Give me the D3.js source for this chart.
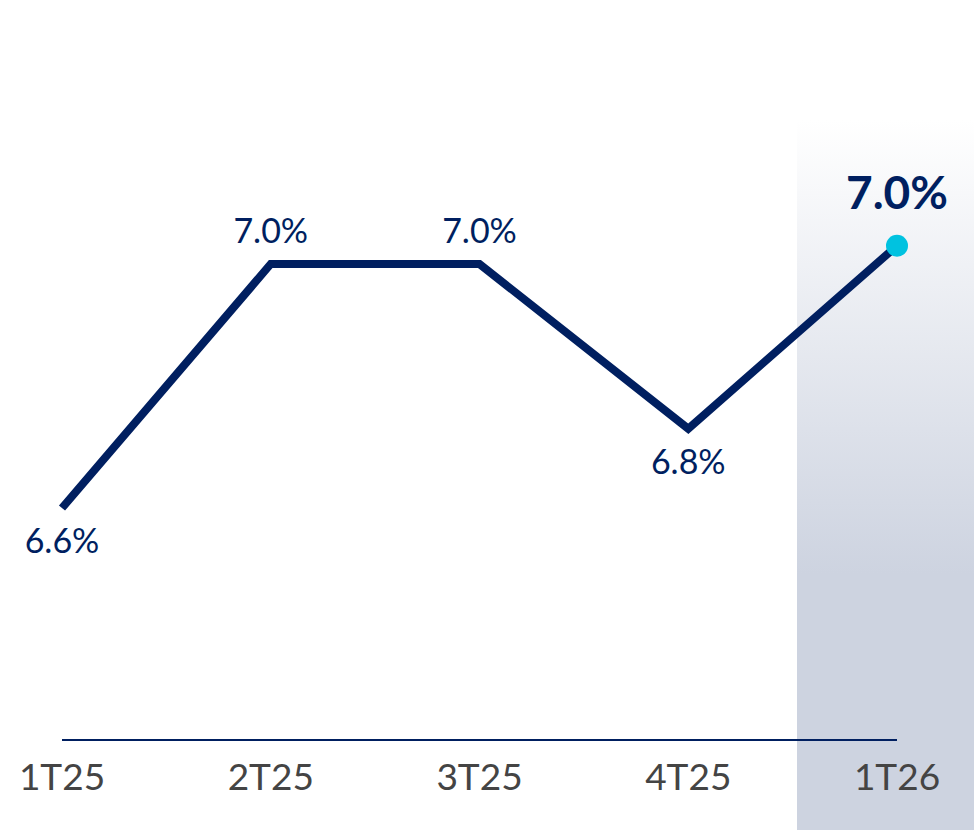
<!DOCTYPE html>
<html>
<head>
<meta charset="utf-8">
<script src="https://cdn.jsdelivr.net/npm/d3@7"></script>
<style>
  html, body { margin: 0; padding: 0; background: #fff; }
  svg { display: block; }
</style>
</head>
<body>
<div id="chart"></div>
<script>
// quarters and values
const quarters = ['1T25', '2T25', '3T25', '4T25', '1T26'];
const values = [6.60, 7.00, 7.00, 6.73, 7.03];
const valueLabels = ['6.6%', '7.0%', '7.0%', '6.8%', '7.0%'];

const width = 974,
      height = 830;

const navy = '#001f60',
    cyan = '#00c2e0';

const x = d3.scalePoint()
  .domain(quarters)
  .range([62, 897]);

const y = d3.scaleLinear()
  .domain([6.6, 7.0])
  .range([508, 264]);

const svg = d3.select('#chart').append('svg')
  .attr('width', width)
  .attr('height', height);

const defs = svg.append('defs');
const grad = defs.append('linearGradient')
  .attr('id', 'hl')
  .attr('x1', 0).attr('y1', 0).attr('x2', 0).attr('y2', 1);
grad.append('stop').attr('offset', '0%').attr('stop-color', '#ffffff');
grad.append('stop').attr('offset', '64%').attr('stop-color', '#cdd3e0');
grad.append('stop').attr('offset', '100%').attr('stop-color', '#cdd3e0');

// highlighted last quarter
const last = quarters[quarters.length - 1];
svg.append('rect')
  .attr('x', x(last) - 100)
  .attr('y', 120)
  .attr('width', width - (x(last) - 100))
  .attr('height', height - 120)
  .attr('fill', 'url(#hl)');

// baseline
svg.append('line')
  .attr('x1', x(quarters[0]))
  .attr('x2', x(last))
  .attr('y1', 740)
  .attr('y2', 740)
  .attr('stroke', navy)
  .attr('stroke-width', 2);

const line = d3.line()
  .x((d, i) => x(quarters[i]))
  .y(d => y(d));

svg.append('path')
  .datum(values)
  .attr('d', line)
  .attr('fill', 'none')
  .attr('stroke', navy)
  .attr('stroke-width', 8)
  .attr('stroke-linejoin', 'miter');

svg.append('circle')
  .attr('cx', x(last))
  .attr('cy', y(values[values.length - 1]))
  .attr('r', 11)
  .attr('fill', cyan);

// value labels: above or below depending on the turn of the line
const below = [true, false, false, true, false];
const offsets = [45, -21, -21, 45, -37];

svg.selectAll('.val')
  .data(values)
  .enter().append('text')
    .attr('class', 'val')
    .attr('x', (d, i) => x(quarters[i]))
    .attr('y', (d, i) => y(d) + offsets[i])
    .attr('text-anchor', 'middle')
    .attr('font-family', 'Lato, sans-serif')
    .attr('font-size', (d, i) => i === values.length - 1 ? 46 : 34)
    .attr('font-weight', (d, i) => i === values.length - 1 ? 700 : 400)
    .attr('fill', navy)
    .text((d, i) => valueLabels[i]);

// quarter labels
svg.selectAll('.cat')
  .data(quarters)
  .enter().append('text')
    .attr('class', 'cat')
    .attr('x', d => x(d))
    .attr('y', 790)
    .attr('text-anchor', 'middle')
    .attr('font-family', 'Lato, sans-serif')
    .attr('font-size', 37)
    .attr('fill', '#444444')
    .text(d => d);
</script>
</body>
</html>
